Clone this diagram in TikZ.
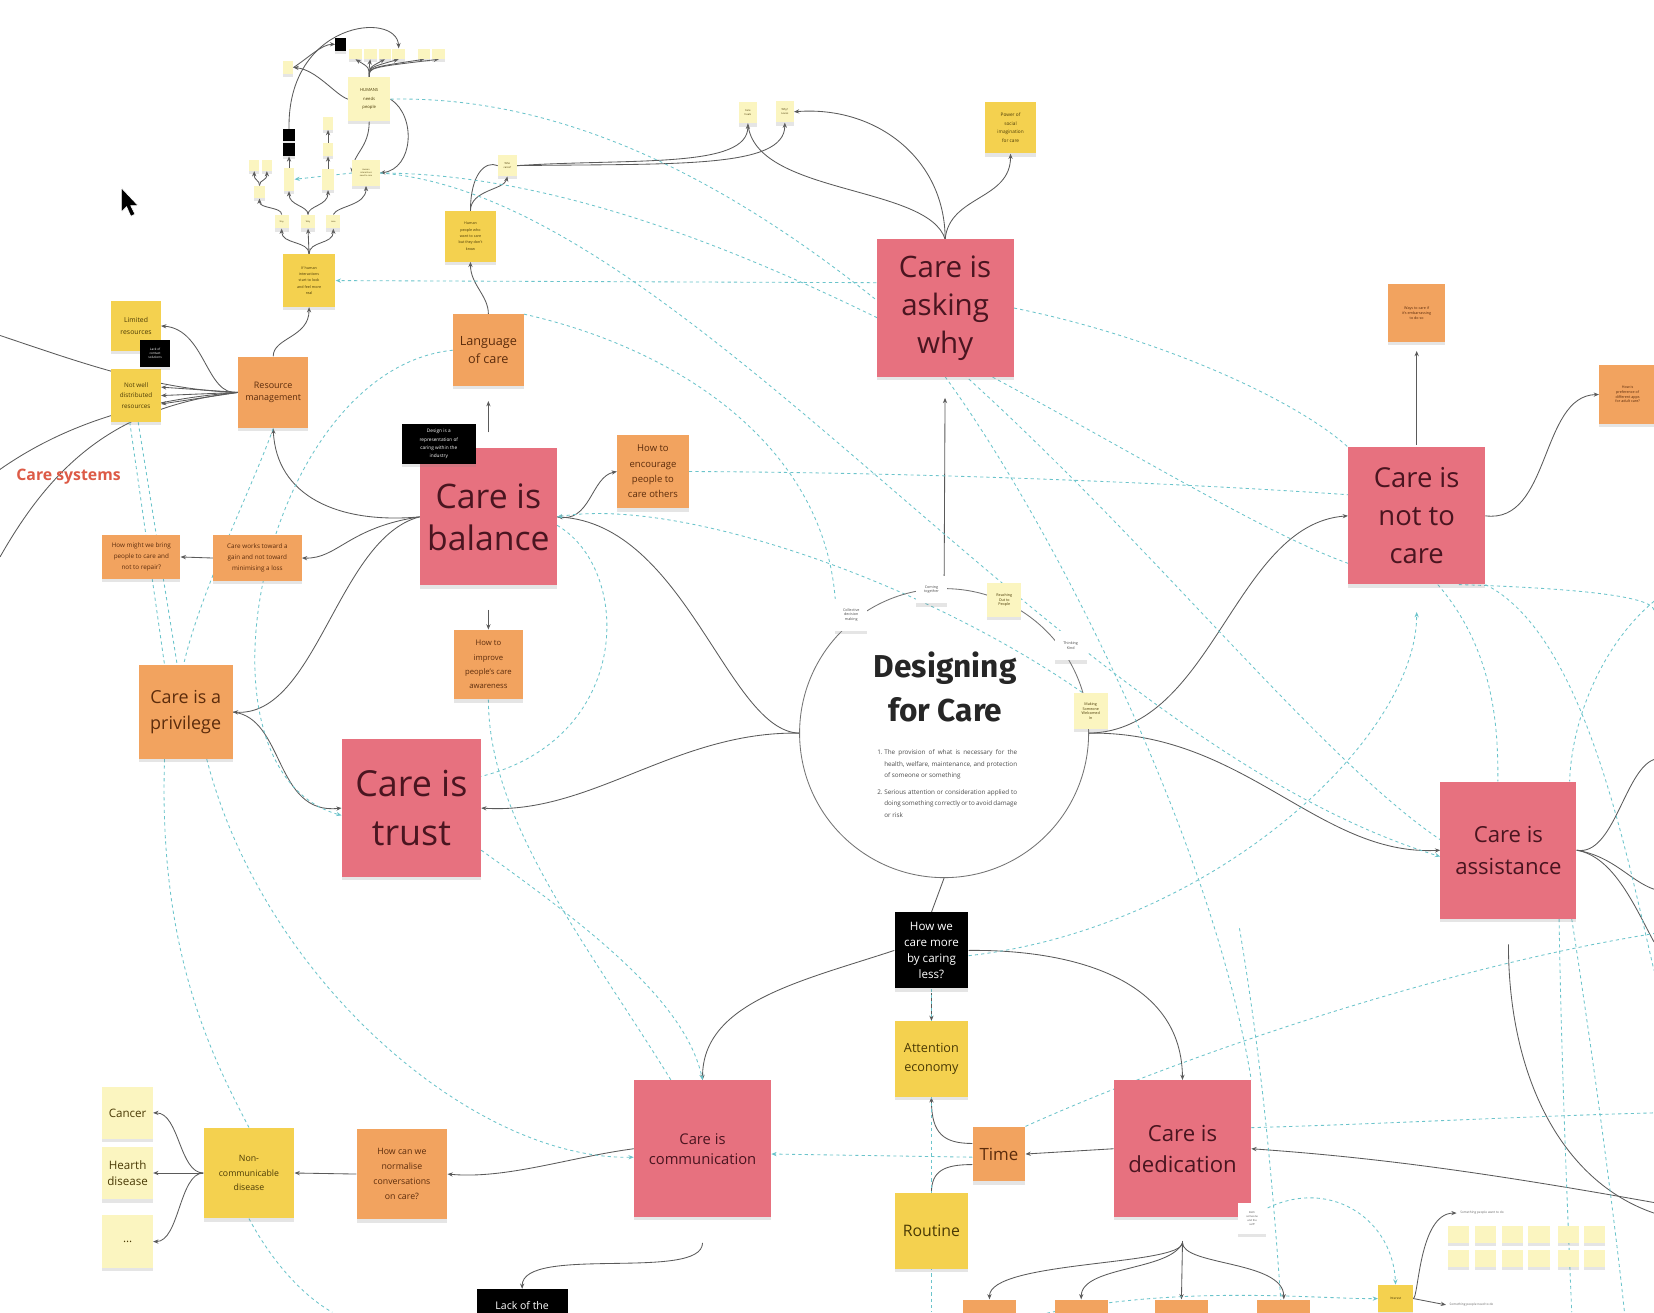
\documentclass[tikz,border=0pt]{standalone}
\usepackage{fontspec}
\setmainfont{Open Sans}
\newfontfamily\titlefont{Fira Sans}
\usetikzlibrary{arrows.meta,shadows}
\definecolor{cpink}{HTML}{E7717F}
\definecolor{corange}{HTML}{F2A35F}
\definecolor{cyellow}{HTML}{F4D14F}
\definecolor{cpale}{HTML}{FBF5C0}
\definecolor{cteal}{HTML}{6BC4CB}
\definecolor{cline}{HTML}{5A5A5A}
\definecolor{cpinktxt}{HTML}{4A1520}
\definecolor{corgtxt}{HTML}{5C2C0C}
\definecolor{cyeltxt}{HTML}{4A3A05}
\definecolor{cred}{HTML}{DD5B47}
\pgfdeclarelayer{back}
\pgfdeclarelayer{bg}
\pgfsetlayers{back,bg,main}
\tikzset{
 note/.style={rectangle, align=center, inner sep=1pt, drop shadow={shadow xshift=0pt,shadow yshift=-3pt,opacity=0.2}},
 sz/.style 2 args={minimum width=#1pt, minimum height=#2pt},
 fs/.style 2 args={font=\fontsize{#1}{#2}\selectfont},
 pinknote/.style={note, fill=cpink, text=cpinktxt, minimum width=130pt, minimum height=130pt},
 orgnote/.style={note, fill=corange, text=corgtxt},
 yelnote/.style={note, fill=cyellow, text=cyeltxt},
 palenote/.style={note, fill=cpale, text=cyeltxt},
 whitenote/.style={note, fill=white, text=black!70},
 blknote/.style={note, fill=black, text=white},
 conn/.style={draw=cline, line width=0.8pt, -{Stealth[length=5pt,width=4pt]}},
 connn/.style={draw=cline, line width=0.8pt},
 tdash/.style={draw=cteal, line width=0.8pt, dash pattern=on 3pt off 3pt},
 tarr/.style={tdash, -{Stealth[length=5pt,width=4pt]}},
}
\begin{document}
\begin{tikzpicture}[x=1pt,y=-1pt]
\begin{pgfonlayer}{back}
\fill[white] (0,0) rectangle (1568,1244);
\end{pgfonlayer}
\useasboundingbox (0,0) rectangle (1568,1244);

% ---------- free ends ----------
\coordinate (e1) at (0,318);
\coordinate (e2) at (0,445);
\coordinate (e3) at (0,528);
\coordinate (r1) at (1568,720);
\coordinate (r2) at (1568,843);
\coordinate (r3) at (1568,893);
\coordinate (r4) at (1568,1140);
\coordinate (r5) at (1568,1150);
\coordinate (r7) at (315,1244);
\coordinate (r8) at (883,1244);
\coordinate (r9) at (1568,885);
\coordinate (r10) at (1175,880);
\coordinate (r11) at (1215,1244);
\coordinate (r12) at (1490,1244);
\coordinate (r13) at (1540,1244);
\coordinate (r14) at (1568,920);
\coordinate (r15) at (1568,1055);
\coordinate (r16) at (1568,580);
\coordinate (r17) at (1568,570);
\coordinate (dj) at (1121,1178);

% ---------- central circle ----------
\node[circle, draw=black!55, line width=0.8pt, minimum size=274pt] (circ) at (895,695) {};
\node[font=\titlefont\bfseries\fontsize{30}{42}\selectfont, align=center, text=black!85] (title) at (896,651) {Designing\\for Care};
\node[font=\fontsize{6}{10.8}\selectfont, text=black!70, inner sep=0pt] (defn) at (898,743)
 {\begin{tabular}{@{}l@{\ }p{126pt}@{}}1.&The provision of what is necessary for the health, welfare, maintenance, and protection of someone or something\\[5pt]
 2.&Serious attention or consideration applied to doing something correctly or to avoid damage or risk\end{tabular}};
\node[whitenote, sz={30}{30}, fs={3.5}{4.5}] (collect) at (807,583) {Collective\\decision\\making};
\node[whitenote, sz={30}{26}, fs={3.5}{4.5}] (coming) at (883,559) {Coming\\together};
\node[palenote, sz={32}{32}, fs={3.5}{4.5}] (reach) at (952,569) {Reaching\\Out to\\People};
\node[whitenote, sz={30}{28}, fs={3.5}{4.5}] (think) at (1015,612) {Thinking\\Kind};
\node[palenote, sz={32}{34}, fs={3.5}{4.5}] (making) at (1034,674) {Making\\Someone\\Welcomed\\In};

% ---------- pink notes ----------
\node[pinknote, fs={28}{36}] (asking) at (896,292) {Care is\\asking\\why};
\node[pinknote, fs={32}{40}] (balance) at (463,490) {Care is\\balance};
\node[pinknote, sz={132}{131}, fs={34}{46}] (trust) at (390,766) {Care is\\trust};
\node[pinknote, fs={26}{36}] (notcare) at (1343,489) {Care is\\not to\\care};
\node[pinknote, sz={129}{130}, fs={21}{30}] (assist) at (1430,806) {Care is\\assistance};
\node[pinknote, fs={14}{19}] (comm) at (666,1089) {Care is\\communication};
\node[pinknote, fs={21}{29}] (dedic) at (1121,1089) {Care is\\dedication};

% ---------- orange notes ----------
\node[orgnote, sz={67}{68}, fs={12}{17}] (langcare) at (463,332) {Language\\of care};
\node[orgnote, sz={66}{68}, fs={8.5}{12}] (resmgmt) at (259,372) {Resource\\management};
\node[orgnote, sz={68}{70}, fs={9}{14.5}] (encourage) at (619,447) {How to\\encourage\\people to\\care others};
\node[orgnote, sz={66}{66}, fs={7.3}{13.5}] (improve) at (463,630) {How to\\improve\\people's care\\awareness};
\node[orgnote, sz={74}{41}, fs={6}{10.5}] (hmw) at (134,528) {How might we bring\\people to care and\\not to repair?};
\node[orgnote, sz={84}{43}, fs={6}{10.5}] (gain) at (244,529) {Care works toward a\\gain and not toward\\minimising a loss};
\node[orgnote, sz={89}{89}, fs={17}{25}] (privilege) at (176,675) {Care is a\\privilege};
\node[orgnote, sz={86}{86}, fs={8.3}{14}] (normal) at (381,1113) {How can we\\normalise\\conversations\\on care?};
\node[orgnote, sz={50}{52}, fs={16}{20}] (time) at (947,1094) {Time};
\node[orgnote, sz={54}{55}, fs={3.5}{4.5}] (nctop) at (1343,297) {Ways to care if\\it's embarrassing\\to do so};
\node[orgnote, sz={54}{56}, fs={3.5}{4.5}] (redge) at (1543,374) {How is\\preference of\\different apps\\for adult care?};
\node[orgnote, sz={50}{40}] (b1) at (938,1252) {};
\node[orgnote, sz={50}{40}] (b2) at (1025,1252) {};
\node[orgnote, sz={50}{40}] (b3) at (1120,1252) {};
\node[orgnote, sz={50}{40}] (b4) at (1217,1252) {};

% ---------- yellow notes ----------
\node[yelnote, sz={48}{49}, fs={4.5}{8}] (power) at (958,121) {Power of\\social\\imagination\\for care};
\node[yelnote, sz={48}{48}, fs={3.5}{6}] (human) at (446,224) {Human\\people who\\want to care\\but they don't\\know};
\node[yelnote, sz={50}{50}, fs={3.5}{6}] (funct) at (293,266) {If human\\interactions\\start to look\\and feel more\\real};
\node[yelnote, sz={47}{47}, fs={6.5}{12}] (limited) at (129,309) {Limited\\resources};
\node[yelnote, sz={47}{50}, fs={6}{10}] (notwell) at (129,375) {Not well\\distributed\\resources};
\node[blknote, sz={28}{25}, fs={3}{4}] (smallblk) at (147,335) {Lack of\\contact\\solutions};
\node[yelnote, sz={70}{72}, fs={12}{18}] (attention) at (883,1004) {Attention\\economy};
\node[yelnote, sz={70}{72}, fs={15}{18}] (routine) at (883,1167) {Routine};
\node[yelnote, sz={86}{86}, fs={8.3}{13.5}] (noncomm) at (236,1112) {Non-\\communicable\\disease};
\node[yelnote, sz={33}{26}, fs={3}{4}] (smallyel) at (1323,1231) {Interest};

% ---------- pale notes ----------
\node[palenote, sz={48}{50}, fs={11}{15}] (cancer) at (121,1055) {Cancer};
\node[palenote, sz={48}{50}, fs={11}{15}] (heart) at (121,1112) {Hearth\\disease};
\node[palenote, sz={48}{50}, fs={11}{15}] (dots) at (121,1177) {...};
\node[palenote, sz={17}{20}, fs={2.5}{3.5}] (careheals) at (709,107) {Care\\heals};
\node[palenote, sz={17}{20}, fs={2.5}{3.5}] (why) at (744,106) {Why?\\Loves};
\node[palenote, sz={18}{20}, fs={2.5}{3.5}] (tlM) at (481,157) {Who\\cares?};
\node[whitenote, sz={27}{30}, fs={2.5}{4}] (both) at (1187,1155) {Both\\someone\\and the\\self?};

% ---------- black notes ----------
\node[blknote, sz={70}{38}, fs={4.5}{8}] (designnote) at (416,421) {Design is a\\representation of\\caring within the\\industry};
\node[blknote, sz={70}{72}, fs={11}{15}] (howwe) at (883,901) {How we\\care more\\by caring\\less?};
\node[blknote, sz={86}{44}, fs={10}{13}] (lack) at (495,1244) {Lack of the\\\phantom{X}};

\node[text=cred, font=\bfseries\fontsize{15}{18}\selectfont] (csys) at (65,452) {Care systems};

% ---------- top-left cluster ----------
\node[blknote, sz={10}{12}] (k1) at (323,42) {};
\node[palenote, sz={12}{10}] (p1) at (337,51) {};
\node[palenote, sz={12}{10}] (p2) at (351,51) {};
\node[palenote, sz={12}{10}] (p3) at (365,51) {};
\node[palenote, sz={12}{10}] (p4) at (378,51) {};
\node[palenote, sz={12}{10}] (p5) at (402,51) {};
\node[palenote, sz={12}{10}] (p6) at (416,51) {};
\node[palenote, sz={40}{42}, fs={4}{8}] (humans) at (350,94) {HUMANS\\needs\\people};
\node[palenote, sz={10}{12}] (tlA) at (273,64) {};
\node[palenote, sz={10}{12}] (tlB) at (311,117) {};
\node[palenote, sz={10}{12}] (tlC) at (311,142) {};
\node[blknote, sz={12}{11}] (k2) at (274,128) {};
\node[blknote, sz={12}{12}] (k3) at (274,142) {};
\node[palenote, sz={10}{10}] (tlD) at (241,157) {};
\node[palenote, sz={10}{10}] (tlE) at (253,157) {};
\node[palenote, sz={10}{12}] (tlF) at (246,182) {};
\node[palenote, sz={10}{22}] (tlG) at (274,170) {};
\node[palenote, sz={12}{20}] (tlH) at (311,170) {};
\node[palenote, sz={26}{24}, fs={2}{3}] (tlI) at (347,164) {Human\\interactions\\need to care};
\node[palenote, sz={13}{13}, fs={2}{3}] (tlJ) at (267,210) {Stay};
\node[palenote, sz={13}{13}, fs={2}{3}] (tlK) at (292,210) {Why};
\node[palenote, sz={13}{13}, fs={2}{3}] (tlL) at (316,210) {Lose};

% ---------- bottom-right grid ----------
\foreach \c [count=\i] in {1383,1408,1434,1459,1487,1512} {
  \node[palenote, sz={20}{16}] (ga\i) at (\c,1170) {};
  \node[palenote, sz={20}{16}] (gb\i) at (\c,1193) {};
}
\node[fs={3}{4}, text=black!60] (gl1) at (1405,1150) {Something people want to do};
\node[fs={3}{4}, text=black!60] (gl2) at (1395,1237) {Something people need to do};

% ================= connectors =================
\begin{pgfonlayer}{bg}
% asking
\draw[conn, shorten >=20pt] (circ.north) -- (asking.south);
\draw[conn] (asking.north) .. controls (896,150) and (830,100) .. (why.east);
\draw[connn] (asking.north) .. controls (880,175) and (715,185) .. (careheals.south);
\draw[conn] (asking.north) .. controls (900,185) and (958,190) .. (power.south);
\draw[conn] (tlM.east) .. controls (600,150) and (709,160) .. (careheals.south);
\draw[conn] (tlM.east) .. controls (640,155) and (744,160) .. (why.south);
\draw[conn] (human.north) .. controls (446,180) and (478,180) .. (tlM.south);
\draw[connn] (human.north) .. controls (446,165) and (460,152) .. (tlM.west);
\draw[conn] (langcare.north) .. controls (463,280) and (446,270) .. (human.south);
% balance
\draw[conn, shorten <=15pt, shorten >=14pt] (balance.north) -- (langcare.south);
\draw[conn, shorten <=23pt] (balance.south) -- (improve.north);
\draw[conn] (balance.west) .. controls (320,497) and (262,470) .. (resmgmt.south);
\draw[conn] (balance.west) .. controls (330,500) and (320,530) .. (gain.east);
\draw[conn] (gain.west) -- (hmw.east);
\draw[conn] (balance.west) .. controls (320,510) and (300,680) .. (privilege.east);
\draw[conn] (balance.east) .. controls (560,497) and (560,452) .. (encourage.west);
\draw[conn] (circ.west) .. controls (690,693) and (650,497) .. (balance.east);
\draw[conn] (circ.west) .. controls (640,693) and (560,773) .. (trust.east);
\draw[conn] (privilege.east) .. controls (270,680) and (260,773) .. (trust.west);
% resource management
\draw[conn] (resmgmt.north) .. controls (259,320) and (293,320) .. (funct.south);
\draw[conn] (resmgmt.west) .. controls (195,376) and (195,312) .. (limited.east);
\draw[conn] (resmgmt.west) -- ([yshift=8pt]notwell.east);
\draw[conn] (resmgmt.west) -- (notwell.east);
\draw[conn] (resmgmt.west) -- ([yshift=-8pt]notwell.east);
\draw[connn] (e1) .. controls (80,345) and (150,370) .. (resmgmt.west);
\draw[connn] (e2) .. controls (50,410) and (120,380) .. (resmgmt.west);
\draw[connn] (e3) .. controls (50,440) and (110,385) .. (resmgmt.west);
% not to care
\draw[conn, shorten <=2pt, shorten >=8pt] (notcare.north) -- (nctop.south);
\draw[conn] (notcare.east) .. controls (1470,497) and (1460,375) .. (redge.west);
\draw[conn] (circ.east) .. controls (1150,693) and (1170,497) .. (notcare.west);
\draw[conn] (circ.east) .. controls (1180,693) and (1250,812) .. (assist.west);
% assistance
\draw[connn] (assist.east) .. controls (1530,812) and (1540,730) .. (r1);
\draw[connn] (assist.east) .. controls (1530,812) and (1545,835) .. (r2);
\draw[connn] (assist.east) .. controls (1530,812) and (1550,860) .. (r3);
\draw[connn, shorten <=24pt] (assist.south) .. controls (1430,1020) and (1480,1120) .. (r5);
% bottom
\draw[connn] (circ.south) -- (howwe.north);
\draw[conn] (howwe.west) .. controls (760,930) and (666,950) .. (comm.north);
\draw[conn] (howwe.east) .. controls (1000,900) and (1120,920) .. (dedic.north);
\draw[conn, shorten <=4pt] (howwe.south) -- (attention.north);
\draw[conn] ([yshift=10pt]time.west) .. controls (895,1084) and (883,1075) .. (attention.south);
\draw[connn] ([yshift=-10pt]time.west) .. controls (895,1104) and (883,1110) .. (routine.north);
\draw[conn] (dedic.west) -- (time.east);
\draw[conn] (r4) .. controls (1400,1110) and (1300,1097) .. (dedic.east);
\draw[connn, shorten <=22pt] (dedic.south) -- (dj);
\draw[conn] (dj) .. controls (1121,1200) and (938,1195) .. (b1.north);
\draw[conn] (dj) .. controls (1110,1205) and (1025,1200) .. (b2.north);
\draw[conn] (dj) -- (b3.north);
\draw[conn] (dj) .. controls (1121,1200) and (1217,1195) .. (b4.north);
\draw[conn] (comm.west) .. controls (540,1097) and (480,1118) .. (normal.east);
\draw[conn] (normal.west) -- (noncomm.east);
\draw[conn] (noncomm.west) .. controls (170,1112) and (170,1055) .. (cancer.east);
\draw[conn] (noncomm.west) -- (heart.east);
\draw[conn] (noncomm.west) .. controls (170,1112) and (170,1177) .. (dots.east);
\draw[conn, shorten <=24pt] (comm.south) .. controls (666,1215) and (495,1180) .. (lack.north);
\draw[conn] (smallyel.east) .. controls (1345,1231) and (1345,1150) .. (gl1.west);
\draw[conn] (smallyel.east) -- (gl2.west);
% top-left cluster
\draw[conn] (funct.north) .. controls (293,228) and (267,232) .. (tlJ.south);
\draw[conn] (funct.north) -- (tlK.south);
\draw[conn] (funct.north) .. controls (293,228) and (316,232) .. (tlL.south);
\draw[conn] (tlJ.north) .. controls (267,196) and (246,198) .. (tlF.south);
\draw[conn] (tlK.north) .. controls (292,195) and (274,195) .. (tlG.south);
\draw[conn] (tlK.north) .. controls (292,195) and (311,195) .. (tlH.south);
\draw[conn] (tlL.north) .. controls (320,195) and (347,195) .. (tlI.south);
\draw[conn] (tlF.north) .. controls (246,170) and (241,172) .. (tlD.south);
\draw[conn] (tlF.north) .. controls (246,170) and (253,172) .. (tlE.south);
\draw[conn] (tlG.north) -- (k3.south);
\draw[conn] (k2.north) .. controls (272,20) and (376,10) .. (p4.north);
\draw[conn] (tlA.east) .. controls (292,55) and (305,42) .. (k1.west);
\draw[conn] (humans.west) .. controls (318,90) and (300,66) .. (tlA.east);
\foreach \p in {p1,p2,p3,p4,p5,p6} {
  \draw[conn] (humans.north) .. controls (350,64) and (350,64) .. (\p.south);
}
\draw[conn] (humans.south) .. controls (350,140) and (335,145) .. (tlI.west);
\draw[conn] (humans.east) .. controls (395,110) and (392,160) .. (tlI.east);
\draw[conn] (tlC.north) -- (tlB.south);
\draw[conn] (tlH.north) -- (tlC.south);
% dashed teal
\draw[tarr] (tlI.west) -- (tlG.east);
\draw[tarr] ([yshift=24pt]asking.west) -- (funct.east);
\draw[tdash] (humans.east) .. controls (800,85) and (1150,650) .. ([yshift=10pt]assist.west);
\draw[tdash] (tlI.east) .. controls (700,165) and (1100,470) .. ([yshift=-45pt]notcare.west);
\draw[tarr] (tlI.east) .. controls (650,185) and (1000,700) .. ([yshift=-6pt]assist.west);
\draw[tdash] (langcare.north east) .. controls (640,330) and (780,420) .. (collect.north west);
\draw[tdash] (asking.east) .. controls (1100,320) and (1230,380) .. (notcare.north west);
\draw[tdash] (encourage.east) .. controls (900,448) and (1150,460) .. ([yshift=20pt]notcare.west);
\draw[tarr] (langcare.west) .. controls (250,350) and (170,730) .. ([yshift=-7pt]trust.west);
\draw[tdash] ([xshift=-6pt]notwell.south) -- ([xshift=-20pt]privilege.north);
\draw[tdash] ([xshift=2pt]notwell.south) -- ([xshift=-8pt]privilege.north);
\draw[tdash] (resmgmt.south) .. controls (240,460) and (190,560) .. ([xshift=-2pt]privilege.north);
\draw[tdash] ([xshift=-20pt]privilege.south) .. controls (150,900) and (200,1000) .. (noncomm.north);
\draw[tarr] ([xshift=20pt]privilege.south) .. controls (250,930) and (450,1100) .. ([yshift=-8pt]comm.west);
\draw[tdash] (noncomm.south) .. controls (260,1200) and (290,1230) .. (r7);
\draw[tdash] ([yshift=-8pt]balance.east) .. controls (600,540) and (600,700) .. ([yshift=30pt]trust.east);
\draw[tarr] ([yshift=-40pt]trust.east) .. controls (560,880) and (650,950) .. (comm.north);
\draw[tdash] (improve.south) .. controls (463,780) and (560,900) .. ([xshift=-30pt]comm.north);
\draw[tdash] (howwe.south) -- (r8);
\draw[tarr] ([yshift=-5pt]howwe.east) .. controls (1150,880) and (1343,700) .. ([yshift=-26pt]notcare.south);
\draw[tdash] (time.north east) .. controls (1100,1010) and (1350,920) .. (r9);
\draw[tarr] ([yshift=-3pt]time.west) -- ([yshift=-5pt]comm.east);
\draw[tarr] (dedic.south east) .. controls (1250,1110) and (1320,1150) .. (smallyel.north);
\draw[tarr] (b1.east) .. controls (1100,1215) and (1250,1232) .. (smallyel.west);
\draw[tdash] (r10) .. controls (1195,1000) and (1205,1100) .. (r11);
\draw[tdash] ([xshift=48pt]assist.south) .. controls (1480,1000) and (1486,1150) .. (r12);
\draw[tdash] ([xshift=60pt]assist.south) .. controls (1510,1000) and (1530,1150) .. (r13);
\draw[tdash] (notcare.south east) .. controls (1500,600) and (1540,800) .. (r14);
\draw[tdash] ([xshift=40pt]notcare.south) .. controls (1570,560) and (1568,575) .. (r16);
\draw[tdash] (r17) .. controls (1520,610) and (1490,680) .. ([xshift=58pt]assist.north);
\draw[tdash] ([xshift=20pt]notcare.south) .. controls (1420,620) and (1420,700) .. ([xshift=-10pt]assist.north);
\draw[tdash] (asking.south) .. controls (1000,500) and (1150,800) .. (dedic.north east);
\draw[tarr] (making.east) .. controls (900,560) and (650,470) .. (balance.east);
\draw[tdash] ([yshift=20pt]dedic.east) .. controls (1300,1066) and (1450,1058) .. (r15);
\end{pgfonlayer}

% mouse cursor
\fill[black, draw=white, line width=0.6pt] (115,178) -- (115,201) -- (120,196) -- (124,205) -- (128,203) -- (124,195) -- (131,195) -- cycle;
\end{tikzpicture}
\end{document}
